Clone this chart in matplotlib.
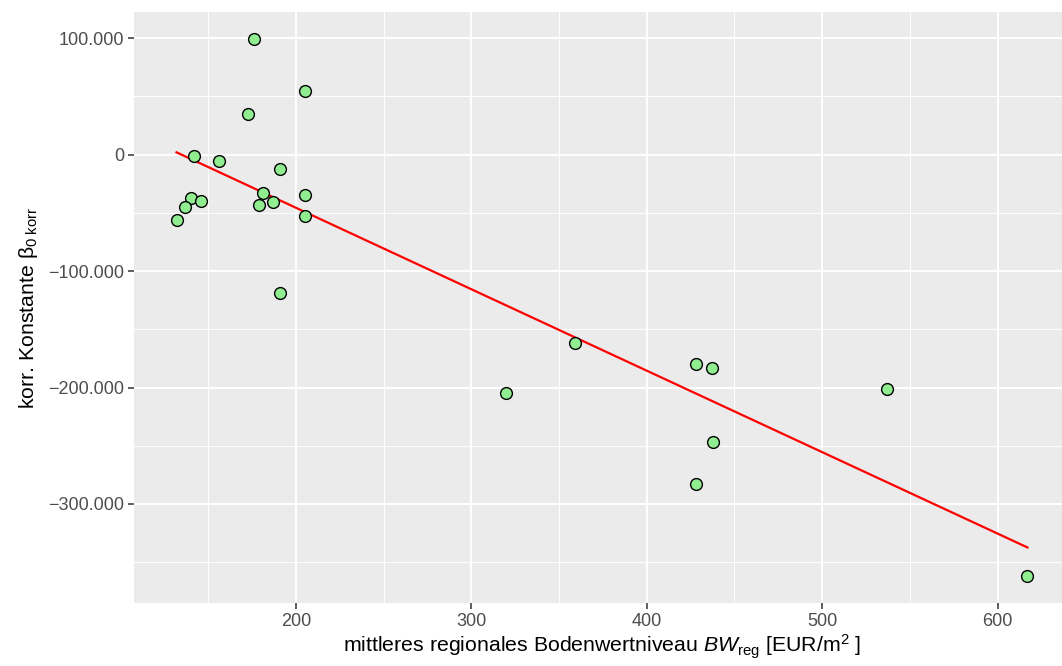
import numpy as np
import matplotlib
matplotlib.use("Agg")
import matplotlib.pyplot as plt
import matplotlib.ticker as mticker

# Bodenwertniveau [EUR/m^2] and corrected constant beta_0 korr
bw_reg = [176, 205, 173, 142, 156, 191, 181, 205, 140, 146, 187, 179, 137, 205,
          132, 191, 359, 320, 428, 437, 438, 428, 537, 617]
beta0_korr = [99500, 55000, 35000, -1000, -5500, -12000, -32500, -35000, -37000,
              -39500, -40500, -43000, -44500, -52500, -56500, -118500, -162000,
              -204500, -179500, -183000, -246500, -283000, -201000, -362000]

x_ticks = [200, 300, 400, 500, 600]
y_ticks = [100000, 0, -100000, -200000, -300000]

plt.rcParams["font.family"] = ["Liberation Sans", "DejaVu Sans"]
plt.rcParams["mathtext.fontset"] = "custom"
plt.rcParams["mathtext.rm"] = "Liberation Sans"
plt.rcParams["mathtext.it"] = "Liberation Sans:italic"

x = np.array(bw_reg, dtype=float)
y = np.array(beta0_korr, dtype=float)

fig = plt.figure(figsize=(10.62, 6.66), dpi=100)
ax = fig.add_axes([134 / 1062, 1 - 603 / 666, (1070 - 134) / 1062, (603 - 12) / 666])
ax.set_facecolor("#EBEBEB")
for s in ax.spines.values():
    s.set_visible(False)

# ggplot-like 5% expansion
xpad = 0.05 * (x.max() - x.min())
ypad = 0.05 * (y.max() - y.min())
ax.set_xlim(x.min() - xpad, x.max() + xpad)
ax.set_ylim(y.min() - ypad, y.max() + ypad)

ax.set_xticks(x_ticks)
ax.set_yticks(y_ticks)
ax.xaxis.set_minor_locator(mticker.MultipleLocator(50))
ax.yaxis.set_minor_locator(mticker.MultipleLocator(50000))
ax.grid(True, which="major", color="white", linewidth=1.4)
ax.grid(True, which="minor", color="white", linewidth=0.7)
ax.set_axisbelow(True)
ax.tick_params(which="minor", length=0)
ax.tick_params(which="major", length=4, width=1.1, color="#333333",
               labelcolor="#4D4D4D", labelsize=13, pad=3)


def fmt(v, _pos):
    s = f"{abs(int(v)):,}".replace(",", ".")
    return ("\u2212" + s) if v < 0 else s


ax.yaxis.set_major_formatter(mticker.FuncFormatter(fmt))

# linear fit
slope, intercept = np.polyfit(x, y, 1)
xs = np.array([x.min(), x.max()])
ax.plot(xs, slope * xs + intercept, color="red", linewidth=1.6, zorder=2)

ax.scatter(x, y, s=72, facecolor="#90EE90", edgecolor="black", linewidth=1.0, zorder=3)

ax.set_xlabel(r"mittleres regionales Bodenwertniveau $BW_{\mathrm{reg}}$ [EUR/m$^2$ ]",
              fontsize=15.3, labelpad=2)
ax.set_ylabel("korr. Konstante \u03b2$_{\\mathrm{0\\ korr}}$", fontsize=15.3, labelpad=6)

fig.savefig("out.png", dpi=100)
